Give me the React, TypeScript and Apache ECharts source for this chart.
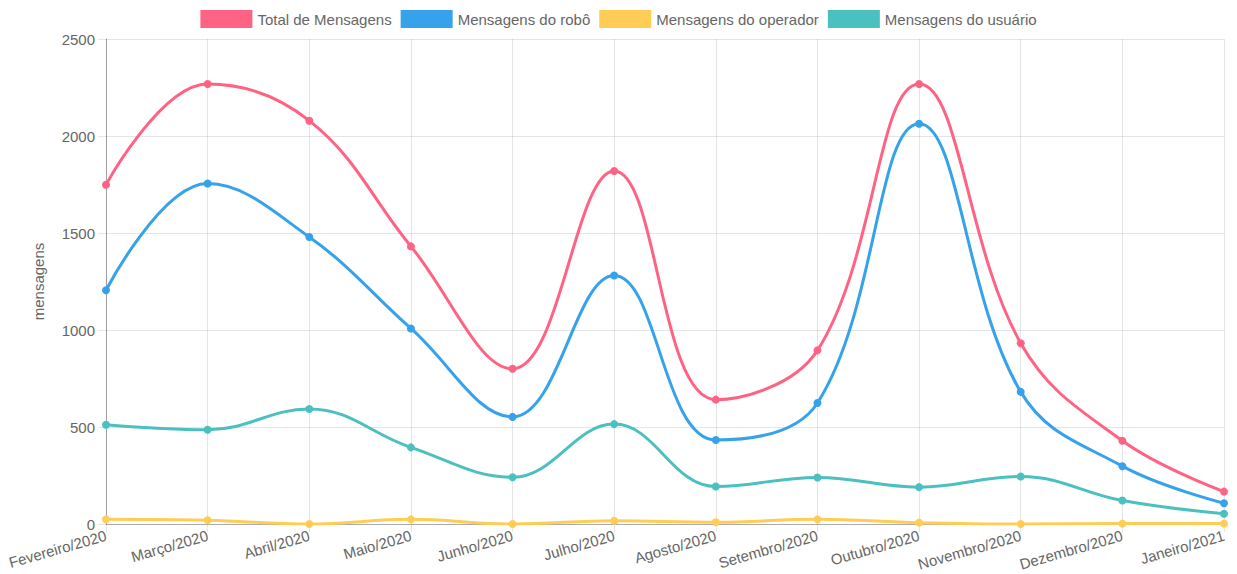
import React, { useEffect, useRef } from "react";
import * as echarts from "echarts";

const categories = [
  "Fevereiro/2020", "Março/2020", "Abril/2020", "Maio/2020", "Junho/2020", "Julho/2020",
  "Agosto/2020", "Setembro/2020", "Outubro/2020", "Novembro/2020", "Dezembro/2020", "Janeiro/2021",
];
const totalMensagens = [1749, 2268, 2079, 1431, 800, 1820, 641, 895, 2268, 932, 429, 167];
const mensagensRobo = [1205, 1755, 1479, 1008, 552, 1281, 433, 624, 2063, 681, 298, 107];
const mensagensOperador = [24, 19, 0, 24, 0, 17, 9, 24, 7, 0, 2, 2];
const mensagensUsuario = [512, 486, 593, 395, 241, 515, 193, 240, 190, 245, 121, 53];

const seriesNames = ["Total de Mensagens", "Mensagens do robô", "Mensagens do operador", "Mensagens do usuário"];
const seriesColors = ["rgb(255,99,132)", "rgb(54,162,235)", "rgb(255,205,86)", "rgb(75,192,192)"];
const seriesData = [totalMensagens, mensagensRobo, mensagensOperador, mensagensUsuario];

const FONT = "'Liberation Sans', Arial, Helvetica, sans-serif";

export default function App() {
  const ref = useRef<HTMLDivElement>(null);
  useEffect(() => {
    document.body.style.margin = "0";
    const chart = echarts.init(ref.current!, undefined, { renderer: "svg" });
    chart.setOption({
      animation: false,
      textStyle: { fontFamily: FONT },
      legend: {
        top: 5,
        left: "center",
        icon: "rect",
        itemWidth: 52,
        itemHeight: 18,
        itemGap: 9,
        textStyle: { fontSize: 15, color: "#666", fontFamily: FONT },
        data: seriesNames,
      },
      grid: { left: 106, right: 13, top: 39, bottom: 50, containLabel: false },
      xAxis: {
        type: "category",
        data: categories,
        boundaryGap: false,
        axisLine: { show: true, lineStyle: { color: "rgba(0,0,0,0.25)", width: 1 } },
        axisTick: { show: true, alignWithLabel: true, length: 8, lineStyle: { color: "rgba(0,0,0,0.1)" } },
        splitLine: { show: true, lineStyle: { color: "rgba(0,0,0,0.1)", width: 1 } },
        axisLabel: { rotate: 16, fontSize: 15, color: "#666", margin: 11, fontFamily: FONT },
      },
      yAxis: {
        type: "value",
        min: 0,
        max: 2500,
        interval: 500,
        name: "mensagens",
        nameLocation: "middle",
        nameRotate: 90,
        nameGap: 60,
        nameTextStyle: { fontSize: 15, color: "#666", fontFamily: FONT },
        axisLine: { show: true, lineStyle: { color: "rgba(0,0,0,0.3)", width: 1 } },
        axisTick: { show: true, length: 8, lineStyle: { color: "rgba(0,0,0,0.1)" } },
        splitLine: { show: true, lineStyle: { color: "rgba(0,0,0,0.1)", width: 1 } },
        axisLabel: { fontSize: 15, color: "#666", margin: 11, fontFamily: FONT, formatter: (v: number) => String(v) },
      },
      series: seriesNames.map((name, i) => ({
        name,
        type: "line",
        data: seriesData[i],
        smooth: 0.4,
        symbol: "circle",
        symbolSize: 8,
        z: 10 - i,
        itemStyle: { color: seriesColors[i] },
        lineStyle: { color: seriesColors[i], width: 3 },
      })),
    });
    return () => chart.dispose();
  }, []);
  return <div ref={ref} style={{ width: 1237, height: 574 }} />;
}
